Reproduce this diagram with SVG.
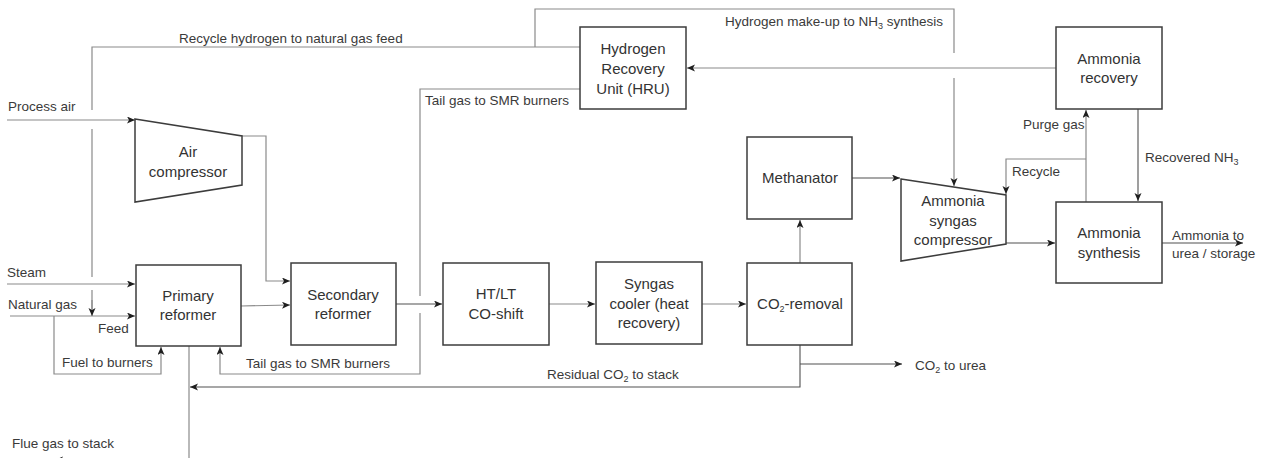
<svg xmlns="http://www.w3.org/2000/svg" width="1267" height="458" viewBox="0 0 1267 458">
  <style>
    .box { fill: #ffffff; stroke: #3c3c3c; stroke-width: 1.5; }
    .ln { fill: none; stroke: #8a8a8a; stroke-width: 1.2; }
    .lnd { fill: none; stroke: #505050; stroke-width: 1.1; }
    .arr { marker-end: url(#ah); }
    .nl { font-family: "Liberation Sans", Arial, sans-serif; font-size: 15px; fill: #333333; text-anchor: middle; }
    .el { font-family: "Liberation Sans", Arial, sans-serif; font-size: 13.5px; fill: #3a3a3a; }
    .sub { font-size: 9px; }
  </style>
  <defs>
    <marker id="ah" markerUnits="userSpaceOnUse" markerWidth="10" markerHeight="8" refX="8" refY="3.5" orient="auto">
      <path d="M0,0 L8,3.5 L0,7 L2,3.5 z" fill="#1e1e1e"/>
    </marker>
  </defs>
  <rect width="1267" height="458" fill="#ffffff"/>

  <!-- process streams -->
  <g id="connectors">
    <!-- feeds on the left -->
    <line class="ln arr" x1="7" y1="120" x2="135" y2="120"/>
    <line class="ln arr" x1="7" y1="284" x2="135" y2="284"/>
    <line class="ln arr" x1="10" y1="316" x2="135" y2="316"/>
    <!-- recycle hydrogen from HRU back to the natural gas feed (with jump gaps) -->
    <path class="ln" d="M580,47 H92 V110 M92,129 V277 M92,290 V309"/>
    <line class="ln arr" x1="92" y1="300" x2="92" y2="316"/>
    <!-- fuel to burners -->
    <path class="ln arr" d="M54,316 V374 H161 V347"/>
    <!-- air compressor to secondary reformer -->
    <path class="ln arr" d="M242,136 H266 V281 H290"/>
    <!-- main syngas train -->
    <line class="ln arr" x1="241" y1="306" x2="290" y2="305"/>
    <line class="lnd arr" x1="396" y1="304" x2="442" y2="304"/>
    <line class="ln arr" x1="549" y1="304" x2="595" y2="304"/>
    <line class="ln arr" x1="702" y1="304" x2="746" y2="304"/>
    <line class="ln arr" x1="800" y1="263" x2="800" y2="220"/>
    <!-- tail gas from HRU to SMR burners (jump over the syngas line) -->
    <path class="ln" d="M580,89 H420 V296"/>
    <path class="ln arr" d="M420,313 V374 H220 V347"/>
    <!-- CO2 removal outlets -->
    <path class="lnd arr" d="M800,345 V387 H190"/>
    <line class="lnd arr" x1="800" y1="364" x2="902" y2="364"/>
    <!-- flue gas to stack -->
    <line class="ln" x1="189" y1="346" x2="189" y2="458"/>
    <line class="lnd arr" x1="68" y1="460" x2="55" y2="460"/>
    <!-- synthesis loop -->
    <line class="lnd arr" x1="852" y1="178" x2="900" y2="178"/>
    <path class="ln" d="M535,47 V9 H954 V53"/>
    <line class="ln arr" x1="954" y1="78" x2="954" y2="186"/>
    <line class="ln arr" x1="1056" y1="68" x2="687" y2="68"/>
    <line class="lnd arr" x1="1006" y1="243" x2="1055" y2="243"/>
    <line class="ln arr" x1="1086" y1="202" x2="1086" y2="110"/>
    <path class="ln arr" d="M1086,159 H1006 V194"/>
    <line class="lnd arr" x1="1138" y1="109" x2="1138" y2="201"/>
    <line class="lnd arr" x1="1162" y1="243" x2="1243" y2="243"/>
  </g>

  <!-- stream labels -->
  <g id="stream-labels">
    <text class="el" x="179" y="43">Recycle hydrogen to natural gas feed</text>
    <text class="el" x="8" y="111">Process air</text>
    <text class="el" x="725" y="26">Hydrogen make-up to NH<tspan class="sub" dy="3">3</tspan><tspan dy="-3"> synthesis</tspan></text>
    <text class="el" x="425" y="105">Tail gas to SMR burners</text>
    <text class="el" x="1023" y="129">Purge gas</text>
    <text class="el" x="1012" y="176">Recycle</text>
    <text class="el" x="1145" y="162">Recovered NH<tspan class="sub" dy="3">3</tspan></text>
    <text class="el" x="7" y="277">Steam</text>
    <text class="el" x="8" y="309">Natural gas</text>
    <text class="el" x="98" y="333">Feed</text>
    <text class="el" x="62" y="367">Fuel to burners</text>
    <text class="el" x="246" y="368">Tail gas to SMR burners</text>
    <text class="el" x="547" y="379">Residual CO<tspan class="sub" dy="3">2</tspan><tspan dy="-3"> to stack</tspan></text>
    <text class="el" x="12" y="448">Flue gas to stack</text>
    <text class="el" x="915" y="370">CO<tspan class="sub" dy="3">2</tspan><tspan dy="-3"> to urea</tspan></text>
    <text class="el" x="1172" y="240">Ammonia to</text>
    <text class="el" x="1172" y="258">urea / storage</text>
  </g>

  <g id="air-compressor">
    <polygon class="box" points="135,119 242,136 242,185 135,202"/>
    <text class="nl" x="188" y="157">Air</text>
    <text class="nl" x="188" y="177">compressor</text>
  </g>
  <g id="primary-reformer">
    <rect class="box" x="136" y="265" width="105" height="81"/>
    <text class="nl" x="188" y="301">Primary</text>
    <text class="nl" x="188" y="320">reformer</text>
  </g>
  <g id="secondary-reformer">
    <rect class="box" x="291" y="263" width="105" height="82"/>
    <text class="nl" x="343" y="300">Secondary</text>
    <text class="nl" x="343" y="319">reformer</text>
  </g>
  <g id="co-shift">
    <rect class="box" x="443" y="263" width="106" height="82"/>
    <text class="nl" x="496" y="299">HT/LT</text>
    <text class="nl" x="496" y="319">CO-shift</text>
  </g>
  <g id="syngas-cooler">
    <rect class="box" x="596" y="262" width="106" height="82"/>
    <text class="nl" x="649" y="289">Syngas</text>
    <text class="nl" x="649" y="309">cooler (heat</text>
    <text class="nl" x="649" y="328">recovery)</text>
  </g>
  <g id="co2-removal">
    <rect class="box" x="747" y="263" width="105" height="82"/>
    <text class="nl" x="800" y="309">CO<tspan class="sub" font-size="10" dy="3">2</tspan><tspan dy="-3">-removal</tspan></text>
  </g>
  <g id="methanator">
    <rect class="box" x="747" y="137" width="105" height="82"/>
    <text class="nl" x="800" y="183">Methanator</text>
  </g>
  <g id="hru">
    <rect class="box" x="580" y="27" width="106" height="82"/>
    <text class="nl" x="633" y="54">Hydrogen</text>
    <text class="nl" x="633" y="74">Recovery</text>
    <text class="nl" x="633" y="94">Unit (HRU)</text>
  </g>
  <g id="syngas-compressor">
    <polygon class="box" points="901,179 1006,195 1006,244 901,261"/>
    <text class="nl" x="953" y="206">Ammonia</text>
    <text class="nl" x="953" y="226">syngas</text>
    <text class="nl" x="953" y="245">compressor</text>
  </g>
  <g id="ammonia-recovery">
    <rect class="box" x="1056" y="27" width="106" height="82"/>
    <text class="nl" x="1109" y="64">Ammonia</text>
    <text class="nl" x="1109" y="83">recovery</text>
  </g>
  <g id="ammonia-synthesis">
    <rect class="box" x="1056" y="202" width="106" height="81"/>
    <text class="nl" x="1109" y="238">Ammonia</text>
    <text class="nl" x="1109" y="258">synthesis</text>
  </g>
</svg>
